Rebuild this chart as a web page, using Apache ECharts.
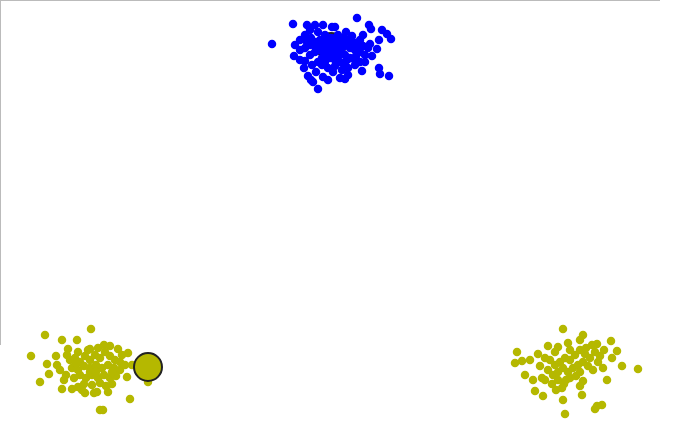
<!DOCTYPE html>
<html><head><meta charset="utf-8">
<script src="https://cdn.jsdelivr.net/npm/echarts@6/dist/echarts.min.js"></script>
<style>html,body{margin:0;padding:0;background:#fff}#c{width:674px;height:436px}</style>
</head><body><div id="c"></div>
<script>
const bluePoints = [
[272,44],[293,24],[307,25],[315,25],[323,25],[332,27],[357,18],[369,25],[371,29],[382,30],[387,34],[391,39],[363,35],[379,40],[377,49],[372,56],[379,68],[380,74],[389,76],[362,71],[355,65],[345,79],[333,72],[335,27],[295,45],[294,56],[305,61],[308,76],[313,82],[318,89],[323,77],[311,80],[316,72],[328,80],[340,78],[348,75],
[300,40],[305,35],[310,30],[318,32],[325,35],[330,38],[335,40],[340,42],[345,45],[350,48],[355,50],[360,52],[365,55],[300,50],[305,48],[310,45],[315,42],[320,40],[325,45],[330,48],[335,50],[340,52],[345,55],[350,58],[355,60],[360,62],[310,55],[315,52],[320,50],[325,55],[330,58],[335,60],[340,62],[345,65],[318,62],[322,65],[328,68],[335,66],[342,70],[348,68],[338,35],[343,38],[348,40],[353,42],[358,44],[363,46],[368,48],[333,45],[338,48],[328,52],[322,58],[312,65],[304,68],[300,60],[352,36],[346,32],[320,46],[332,55],[342,48],[356,56],[365,62],[370,44],[311,38],[325,62],[338,56],[347,60],[316,48],[307,42],[328,42],[360,40]
];
const yellowLeft = [
[45,335],[31,356],[62,340],[77,340],[91,329],[68,349],[67,355],[56,356],[47,364],[57,365],[49,374],[40,382],[62,389],[72,389],[78,387],[85,393],[94,393],[100,410],[90,349],[78,352],
[110,346],[118,349],[128,353],[132,365],[127,377],[115,372],[112,384],[108,392],[97,392],[130,399],[103,410],[148,382],
[70,360],[75,358],[80,362],[85,356],[90,360],[95,355],[100,358],[105,352],[110,356],[115,360],[120,362],[72,368],[78,370],[84,366],[90,368],[96,365],[102,368],[108,365],[114,368],[120,370],[66,375],[74,378],[80,375],[86,378],[92,375],[98,378],[104,375],[110,378],[116,376],[84,384],[92,385],[100,383],[106,386],[88,350],[98,348],[104,345],[60,370],[64,380],[122,355],[125,365],[82,390],[90,372],[96,372],[76,363],[112,372]
];
const yellowRight = [
[563,329],[517,352],[538,354],[548,346],[558,347],[568,343],[515,363],[522,361],[530,360],[525,375],[533,380],[542,378],[535,391],[543,396],[563,400],[565,414],
[583,335],[580,340],[611,341],[597,344],[617,351],[612,358],[622,366],[638,369],[603,368],[607,380],[583,381],[580,386],[582,395],[597,406],[602,405],[595,409],
[550,360],[555,365],[560,362],[565,358],[570,360],[575,355],[580,350],[585,354],[590,358],[595,352],[600,356],[548,370],[553,375],[558,372],[563,368],[568,372],[573,368],[578,365],[583,362],[588,366],[593,370],[545,380],[552,384],[558,380],[564,384],[570,378],[576,376],[556,390],[562,388],[586,348],[592,345],[570,350],[540,366],[545,358],[598,362],[604,350],[566,380],[580,372],[555,352]
];
const centroidsYellow = [[148,367]];
const centroidsBlue = [[331,47]];

const chart = echarts.init(document.getElementById('c'), null, {renderer:'canvas'});
const BLUE = '#0000ff', OLIVE = '#b5b800';
chart.setOption({
  animation: false,
  backgroundColor: '#fff',
  grid: {left: 0, right: 0, top: 0, bottom: 0},
  xAxis: {type: 'value', min: 0, max: 674, show: false},
  yAxis: {type: 'value', min: 0, max: 436, inverse: true, show: false},
  graphic: [
    {type: 'line', shape: {x1: 0, y1: 0.5, x2: 660, y2: 0.5}, style: {stroke: '#bbbbbb', lineWidth: 1}},
    {type: 'line', shape: {x1: 0.5, y1: 0, x2: 0.5, y2: 345}, style: {stroke: '#bbbbbb', lineWidth: 1}}
  ],
  series: [
    {type: 'scatter', data: centroidsBlue, symbolSize: 28, z: 1,
     itemStyle: {color: BLUE, borderColor: '#222', borderWidth: 2, opacity: 1}},
    {type: 'scatter', data: bluePoints, symbolSize: 8.5, z: 2, itemStyle: {color: BLUE, opacity: 1}},
    {type: 'scatter', data: yellowLeft, symbolSize: 8.5, z: 2, itemStyle: {color: OLIVE, opacity: 1}},
    {type: 'scatter', data: yellowRight, symbolSize: 8.5, z: 2, itemStyle: {color: OLIVE, opacity: 1}},
    {type: 'scatter', data: centroidsYellow, symbolSize: 28, z: 3,
     itemStyle: {color: OLIVE, borderColor: '#222', borderWidth: 2, opacity: 1}}
  ]
});
</script></body></html>
